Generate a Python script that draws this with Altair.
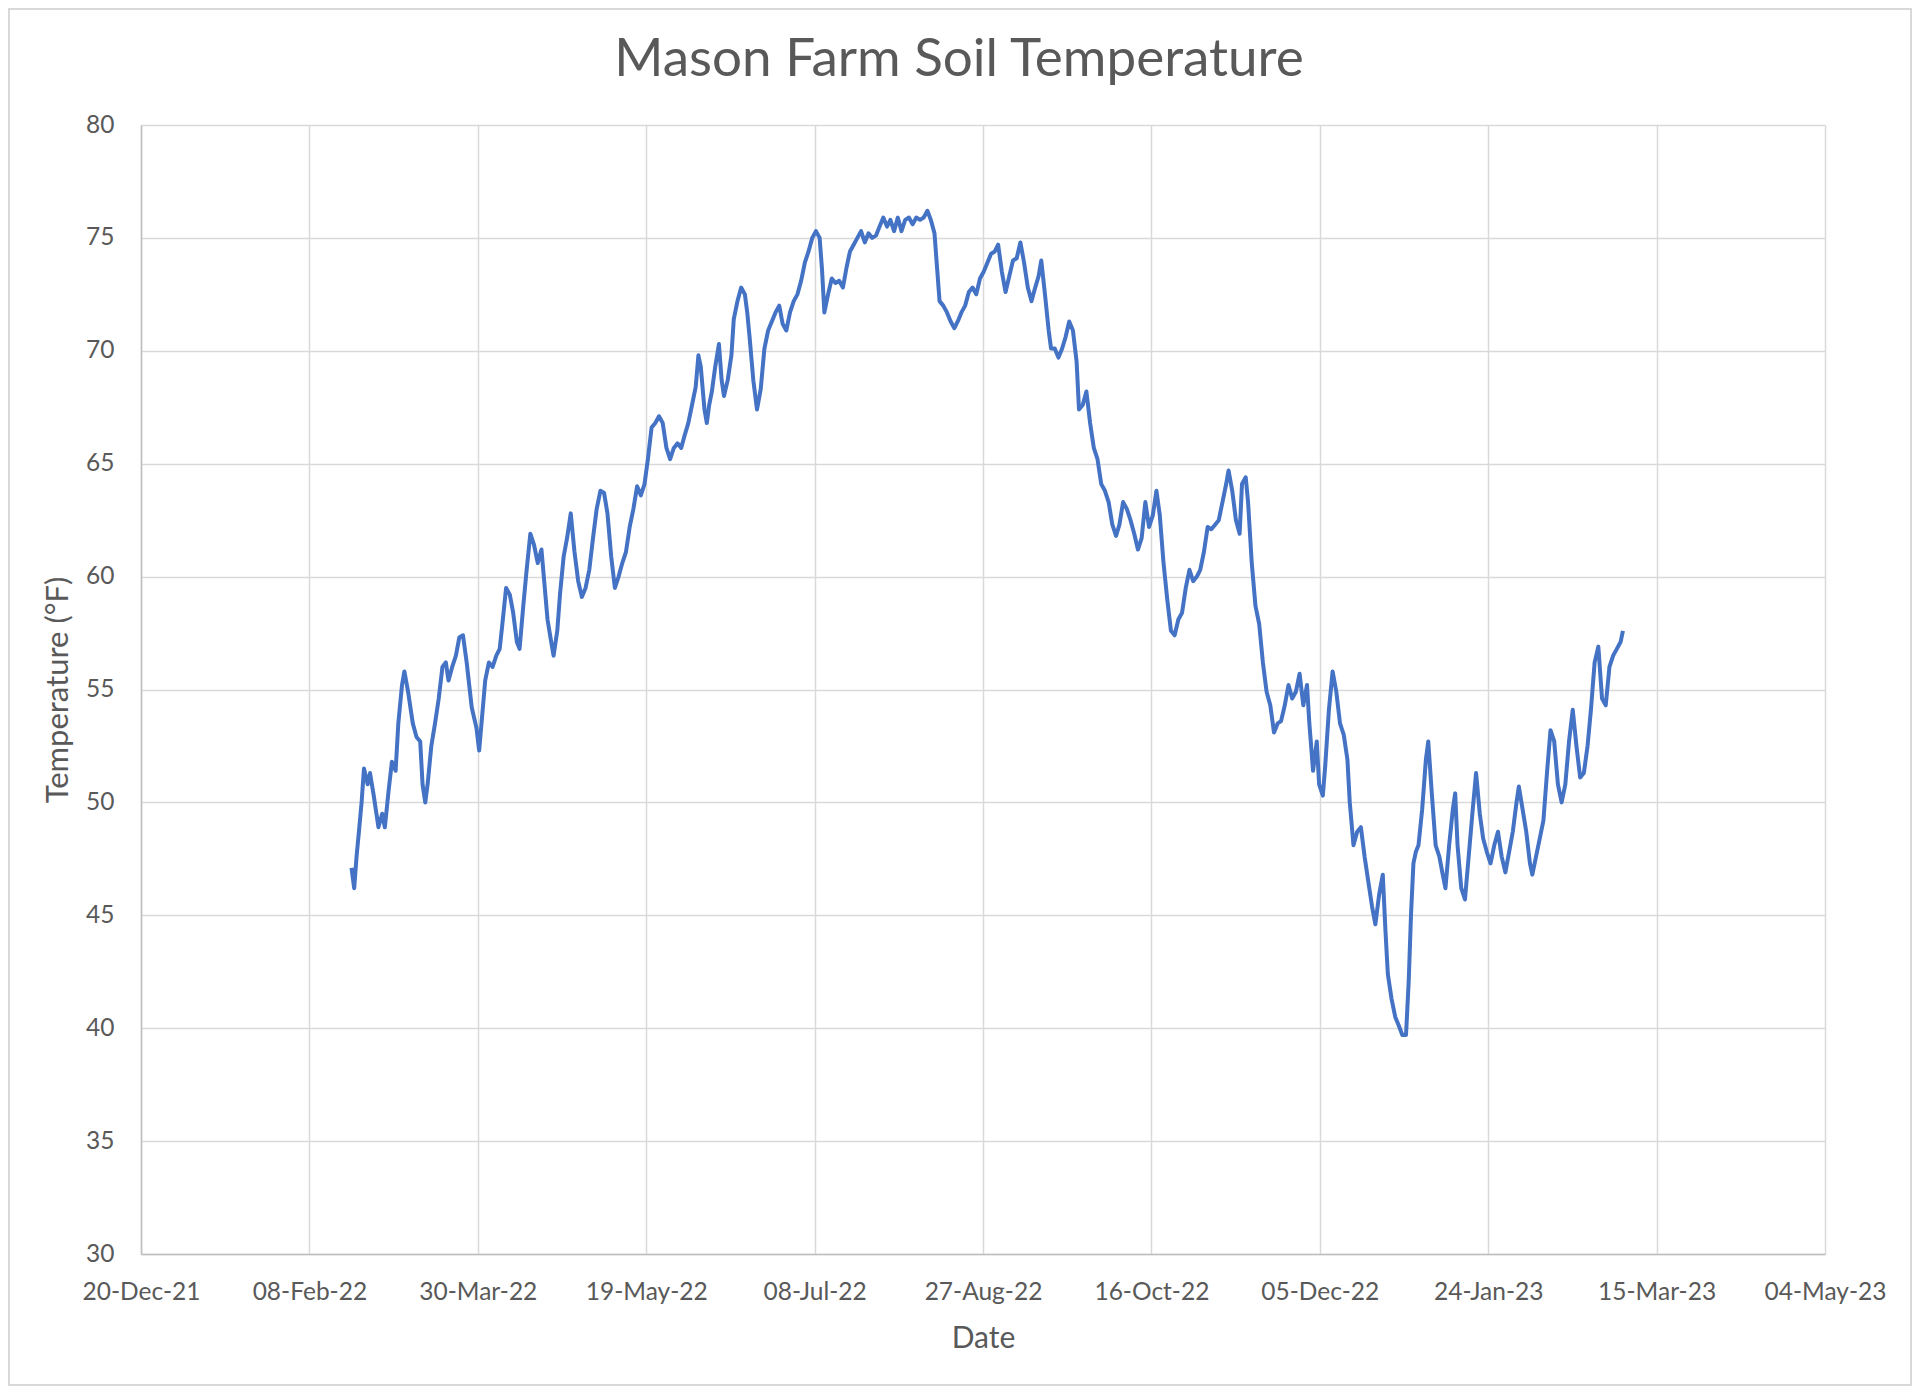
import altair as alt
import pandas as pd

# ---- data (days after 20-Dec-2021, soil temperature °F) ----
start_date = "2021-12-20"
days = [
    62.5, 63.3, 64.0, 64.7, 65.5, 66.2, 67.3, 68.0, 69.1, 70.5, 71.6, 72.4, 73.5, 74.5, 75.6,
    76.4, 77.5, 78.2, 79.3, 80.7, 81.8, 82.9, 83.6, 84.4, 85.1, 86.2, 87.3, 88.4, 89.5, 90.5,
    91.3, 92.4, 93.5, 94.5, 95.6, 96.7, 98.2, 99.6, 100.4, 101.1, 102.2, 103.3, 104.4, 105.5,
    106.5, 107.3, 108.4, 109.5, 110.5, 111.6, 112.4, 113.5, 114.5, 115.6, 116.7, 117.8, 118.9,
    119.6, 120.7, 121.8, 122.5, 123.6, 124.4, 125.5, 126.5, 127.6, 128.7, 129.8, 130.9, 132.0,
    133.1, 134.2, 135.3, 136.4, 137.5, 138.5, 139.6, 140.7, 141.8, 142.9, 144.0, 145.1, 146.2,
    147.3, 148.4, 149.5, 150.5, 151.6, 152.7, 153.8, 154.9, 156.0, 157.1, 158.2, 159.3, 160.4,
    161.5, 162.5, 163.6, 164.7, 165.5, 166.2, 167.3, 168.0, 168.7, 169.5, 170.5, 171.6, 172.4,
    173.1, 174.2, 175.3, 176.0, 177.1, 178.2, 179.3, 180.0, 180.7, 181.8, 182.9, 184.0, 185.1,
    186.2, 187.3, 188.4, 189.5, 190.5, 191.6, 192.7, 193.8, 194.9, 196.0, 197.1, 198.2, 199.3,
    200.4, 201.5, 202.2, 202.9, 204.0, 205.1, 206.2, 207.3, 208.4, 209.5, 210.5, 211.6, 212.7,
    213.8, 214.9, 216.0, 217.1, 218.2, 219.3, 220.4, 221.5, 222.5, 223.6, 224.7, 225.8, 226.9,
    228.0, 229.1, 230.2, 231.3, 232.4, 233.5, 234.5, 235.6, 236.4, 237.1, 238.2, 239.3, 240.4,
    241.5, 242.5, 243.6, 244.7, 245.8, 246.9, 248.0, 249.1, 250.2, 251.3, 252.4, 253.5, 254.5,
    255.6, 256.7, 257.8, 258.9, 260.0, 261.1, 262.2, 263.3, 264.4, 265.5, 266.5, 267.3, 268.4,
    269.5, 270.2, 271.3, 272.4, 273.5, 274.5, 275.6, 276.7, 277.8, 278.5, 279.6, 280.7, 281.8,
    282.9, 284.0, 285.1, 286.2, 287.3, 288.4, 289.5, 290.5, 291.6, 292.7, 293.8, 294.9, 296.0,
    297.1, 298.2, 299.3, 300.4, 301.5, 302.5, 303.6, 304.7, 305.8, 306.9, 308.0, 309.1, 310.2,
    311.3, 312.4, 313.5, 314.5, 315.6, 316.7, 317.8, 318.9, 320.0, 321.1, 322.2, 322.9, 324.0,
    325.1, 326.2, 326.9, 328.0, 328.7, 329.8, 330.9, 332.0, 333.1, 334.2, 335.3, 336.4, 337.5,
    338.5, 339.6, 340.7, 341.8, 342.9, 344.0, 345.1, 346.2, 346.9, 348.0, 349.1, 349.8, 350.9,
    351.6, 352.7, 353.8, 354.9, 356.0, 357.1, 358.2, 358.9, 360.0, 361.1, 362.2, 363.3, 364.4,
    365.5, 366.5, 367.6, 368.7, 369.5, 370.2, 371.3, 372.4, 373.5, 374.5, 375.6, 376.4, 377.1,
    377.8, 378.5, 379.3, 380.4, 381.5, 382.2, 383.3, 384.4, 385.5, 386.5, 387.3, 388.4, 389.5,
    390.2, 390.9, 392.0, 393.1, 394.2, 395.3, 396.4, 397.5, 398.5, 399.6, 400.7, 401.8, 402.9,
    404.0, 405.1, 406.2, 407.3, 408.4, 409.1, 410.2, 411.3, 412.4, 413.1, 414.2, 415.3, 416.4,
    417.5, 418.5, 419.6, 420.7, 421.8, 422.9, 424.0, 425.1, 426.2, 427.3, 428.4, 429.5, 430.5,
    431.6, 432.7, 433.8, 434.9, 436.0, 437.1, 438.2, 439.3, 440.0,
]
temps = [
    47.1, 46.2, 47.6, 48.7, 50.0, 51.5, 50.8, 51.3, 50.3, 48.9, 49.5, 48.9, 50.5, 51.8, 51.4,
    53.5, 55.2, 55.8, 54.9, 53.5, 52.9, 52.7, 50.8, 50.0, 50.8, 52.5, 53.5, 54.6, 56.0, 56.2,
    55.4, 56.0, 56.5, 57.3, 57.4, 56.2, 54.2, 53.3, 52.3, 53.5, 55.4, 56.2, 56.0, 56.5,
    56.8, 57.9, 59.5, 59.2, 58.4, 57.1, 56.8, 58.7, 60.3, 61.9, 61.4, 60.6, 61.2,
    60.0, 58.1, 57.1, 56.5, 57.6, 59.2, 60.9, 61.7, 62.8, 61.1, 59.8, 59.1, 59.5,
    60.3, 61.7, 63.0, 63.8, 63.7, 62.8, 60.9, 59.5, 60.0, 60.6, 61.1, 62.2, 63.0,
    64.0, 63.6, 64.1, 65.2, 66.6, 66.8, 67.1, 66.8, 65.7, 65.2, 65.7, 65.9, 65.7,
    66.3, 66.8, 67.6, 68.4, 69.8, 69.3, 67.4, 66.8, 67.6, 68.2, 69.3, 70.3, 68.7,
    68.0, 68.7, 69.8, 71.4, 72.2, 72.8, 72.5, 71.7, 70.6, 68.7, 67.4, 68.3, 70.1,
    70.9, 71.3, 71.7, 72.0, 71.2, 70.9, 71.7, 72.2, 72.5, 73.1, 73.9, 74.4, 75.0,
    75.3, 75.0, 73.6, 71.7, 72.5, 73.2, 73.0, 73.1, 72.8, 73.7, 74.4, 74.7, 75.0,
    75.3, 74.8, 75.2, 75.0, 75.1, 75.5, 75.9, 75.5, 75.8, 75.3, 75.9, 75.3, 75.8,
    75.9, 75.6, 75.9, 75.8, 75.9, 76.2, 75.8, 75.2, 73.6, 72.2, 72.0, 71.7, 71.3,
    71.0, 71.3, 71.7, 72.0, 72.6, 72.8, 72.5, 73.2, 73.5, 73.9, 74.3, 74.4, 74.7,
    73.5, 72.6, 73.3, 74.0, 74.1, 74.8, 73.9, 72.8, 72.2, 72.8, 73.3, 74.0, 72.5,
    70.9, 70.1, 70.1, 69.7, 70.1, 70.6, 71.3, 70.9, 69.5, 67.4, 67.6, 68.2, 66.8,
    65.7, 65.2, 64.1, 63.8, 63.3, 62.3, 61.8, 62.3, 63.3, 63.0, 62.5, 61.9, 61.2,
    61.7, 63.3, 62.2, 62.7, 63.8, 62.7, 60.6, 59.0, 57.6, 57.4, 58.1, 58.4, 59.5,
    60.3, 59.8, 60.0, 60.3, 61.1, 62.2, 62.1, 62.3, 62.5, 63.3, 64.1, 64.7, 63.8,
    62.5, 61.9, 64.1, 64.4, 63.3, 60.6, 58.7, 57.9, 56.2, 54.9, 54.3, 53.1, 53.5,
    53.6, 54.3, 55.2, 54.6, 54.9, 55.7, 54.3, 55.2, 53.5, 51.4, 52.7, 50.8, 50.3,
    51.6, 54.1, 55.8, 54.9, 53.5, 53.0, 51.9, 50.0, 48.1, 48.7, 48.9, 47.6, 46.5,
    45.4, 44.6, 45.9, 46.8, 44.3, 42.4, 41.3, 40.5, 40.1, 39.7, 39.7, 42.1, 45.1,
    47.3, 47.8, 48.1, 49.7, 51.9, 52.7, 50.3, 48.1, 47.6, 46.8, 46.2, 48.1, 49.7,
    50.4, 48.1, 46.2, 45.7, 47.6, 49.5, 51.3, 49.5, 48.4, 47.8, 47.3, 48.1, 48.7,
    47.6, 46.9, 47.8, 48.7, 50.0, 50.7, 49.7, 48.7, 47.3, 46.8, 47.6, 48.4, 49.2,
    51.4, 53.2, 52.7, 50.8, 50.0, 50.8, 52.7, 54.1, 52.5, 51.1, 51.3, 52.5, 54.1,
    56.2, 56.9, 54.6, 54.3, 56.0, 56.5, 56.8, 57.1, 57.6,
]

x_ticks = ["2021-12-20", "2022-02-08", "2022-03-30", "2022-05-19", "2022-07-08", "2022-08-27",
           "2022-10-16", "2022-12-05", "2023-01-24", "2023-03-15", "2023-05-04"]
y_ticks = [30, 35, 40, 45, 50, 55, 60, 65, 70, 75, 80]

title_text = "Mason Farm Soil Temperature"
x_title = "Date"
y_title = "Temperature (°F)"

# ---- build table ----
base = pd.Timestamp(start_date)
df = pd.DataFrame({
    "date": [base + pd.Timedelta(days=d) for d in days],
    "temp": temps,
})


def dt(s):
    t = pd.Timestamp(s)
    return alt.DateTime(year=t.year, month=t.month, date=t.day)


tick_values = [dt(s) for s in x_ticks]

W, H = 1684, 1129
PAD_L, PAD_T, PAD_R, PAD_B = 133, 117, 87, 132
FONT = "Lato"
TXT = "#595959"

line = alt.Chart(df).mark_line(color="#4472C4", strokeWidth=4, strokeJoin="round").encode(
    x=alt.X("date:T",
            scale=alt.Scale(domain=[tick_values[0], tick_values[-1]]),
            axis=alt.Axis(values=tick_values, format="%d-%b-%y", title=x_title,
                          labelFontSize=24.5, titleFontSize=30, labelPadding=26,
                          titleY=84, titleBaseline="middle", labelFlush=False,
                          labelOverlap=False)),
    y=alt.Y("temp:Q",
            scale=alt.Scale(domain=[30, 80], nice=False, zero=False),
            axis=alt.Axis(values=y_ticks, title=y_title, labelFontSize=24.5, titleFontSize=31,
                          labelPadding=27, titleX=-83, titleY=H / 2, titleBaseline="middle",
                          titleAngle=-90)),
)

frame = alt.Chart(pd.DataFrame({"k": [0]})).mark_rect(
    fill=None, stroke="#d9d9d9", strokeWidth=2
).encode(
    x=alt.value(-PAD_L + 1), x2=alt.value(W + PAD_R - 1),
    y=alt.value(-PAD_T + 1), y2=alt.value(H + PAD_B - 1),
)

title = alt.Chart(pd.DataFrame({"t": [title_text]})).mark_text(
    font=FONT, fontSize=53, color=TXT, align="center", baseline="alphabetic"
).encode(
    text="t:N", x=alt.value(W / 2 - 24), y=alt.value(-49),
)

chart = alt.layer(frame, line, title).properties(
    width=W, height=H,
    autosize=alt.AutoSizeParams(type="none"),
    padding={"left": PAD_L, "top": PAD_T, "right": PAD_R, "bottom": PAD_B},
    background="white",
).configure_view(
    stroke=None
).configure_axis(
    labelFont=FONT, titleFont=FONT, labelColor=TXT, titleColor=TXT,
    titleFontWeight="normal", gridColor="#d9d9d9", gridWidth=1.5,
    domainColor="#bfbfbf", domainWidth=1.5, ticks=False,
)

chart.save("out.html", embed_options={"renderer": "svg", "actions": False})
